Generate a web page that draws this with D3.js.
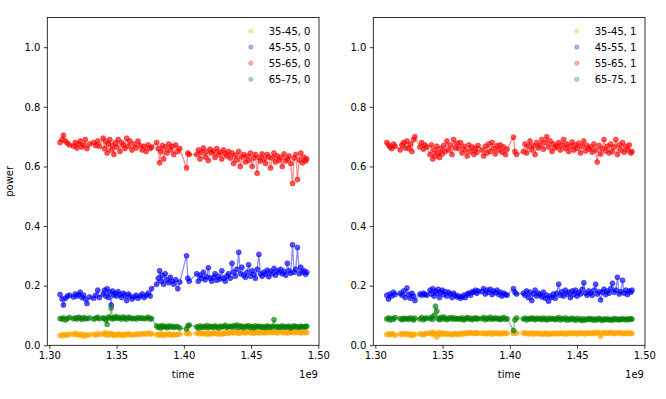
<!doctype html>
<html>
<head>
<meta charset="UTF-8">
<title>power vs time</title>
<script src="https://d3js.org/d3.v7.min.js"></script>
<style>
  body { margin: 0; background: #fff; }
  text { font-family: "DejaVu Sans", sans-serif; fill: #000; }
</style>
</head>
<body>
<svg id="chart" width="666" height="399"></svg>
<script>
// time in units of 1e9 s (axis shows offset "1e9")
var timesL = [
  1.3080,1.3095,1.3105,1.3120,1.3135,1.3150,1.3180,1.3192,1.3205,1.3218,
  1.3230,1.3242,1.3255,1.3268,1.3280,1.3300,1.3330,1.3345,1.3360,1.3372,
  1.3400,1.3410,1.3420,1.3430,1.3440,1.3450,1.3460,1.3470,1.3480,1.3490,
  1.3500,1.3512,1.3525,1.3538,1.3550,1.3562,1.3575,1.3588,1.3600,1.3615,
  1.3630,1.3645,1.3660,1.3675,1.3690,1.3705,1.3720,1.3735,1.3750,1.3760,
  1.3798,1.3810,1.3820,1.3830,1.3840,1.3850,1.3862,1.3875,1.3888,1.3900,
  1.3912,1.3925,1.3940,1.3955,1.3970,
  1.4020,1.4030,1.4040,
  1.4096,1.4108,1.4120,1.4132,1.4145,1.4158,1.4170,1.4182,1.4195,1.4208,
  1.4220,1.4232,1.4245,1.4258,1.4270,1.4282,1.4295,1.4308,1.4320,1.4332,
  1.4345,1.4358,1.4370,1.4382,1.4395,1.4408,1.4420,1.4432,1.4445,1.4458,
  1.4470,1.4482,1.4495,1.4508,1.4520,1.4532,1.4545,1.4558,1.4570,1.4582,
  1.4595,1.4608,1.4620,1.4632,1.4645,1.4658,1.4670,1.4682,1.4695,1.4708,
  1.4720,1.4732,1.4745,1.4758,1.4770,1.4782,1.4795,1.4808,1.4820,1.4832,
  1.4845,1.4858,1.4870,1.4882,1.4895,1.4905,1.4914
];

var orange0 = [
  .033,.035,.032,.036,.034,.038,.036,.040,.037,.034,
  .038,.035,.030,.036,.033,.035,.037,.034,.039,.036,
  .040,.036,.042,.034,.038,.035,.040,.037,.033,.036,
  .035,.038,.034,.036,.033,.037,.035,.039,.036,.034,
  .037,.035,.039,.036,.038,.040,.037,.041,.039,.038,
  .035,.037,.034,.038,.036,.033,.037,.035,.038,.036,
  .034,.037,.035,.036,.038,
  .040,.042,.038,
  .040,.043,.038,.041,.039,.042,.037,.040,.038,.041,
  .039,.042,.040,.037,.041,.038,.040,.043,.039,.041,
  .042,.044,.041,.046,.043,.040,.045,.042,.044,.041,
  .043,.046,.042,.044,.040,.045,.043,.041,.044,.042,
  .044,.041,.046,.043,.045,.042,.047,.044,.041,.045,
  .043,.046,.042,.044,.041,.045,.043,.046,.042,.044,
  .043,.045,.041,.044,.042,.045,.043
];
var blue0 = [
  .170,.155,.135,.158,.165,.168,.162,.172,.165,.170,
  .178,.160,.168,.155,.140,.162,.158,.168,.185,.160,
  .172,.185,.165,.190,.160,.178,.135,.182,.168,.175,
  .165,.180,.170,.160,.175,.168,.150,.172,.165,.155,
  .162,.168,.158,.165,.172,.160,.168,.175,.165,.190,
  .205,.225,.250,.215,.235,.205,.240,.220,.210,.228,
  .215,.205,.220,.190,.212,
  .300,.225,.215,
  .240,.215,.235,.225,.245,.220,.230,.260,.225,.215,
  .228,.240,.218,.232,.222,.250,.225,.215,.232,.240,
  .225,.275,.245,.232,.255,.312,.240,.262,.235,.228,
  .245,.270,.232,.250,.238,.225,.255,.305,.240,.232,
  .245,.238,.252,.230,.248,.240,.258,.235,.250,.245,
  .255,.240,.248,.235,.275,.250,.242,.337,.245,.255,
  .328,.240,.262,.245,.250,.238,.245
];
var red0 = [
  .680,.690,.705,.685,.678,.672,.668,.680,.662,.675,
  .685,.665,.672,.690,.660,.675,.680,.670,.685,.668,
  .695,.660,.685,.645,.675,.690,.655,.670,.640,.680,
  .665,.690,.650,.680,.672,.660,.695,.668,.685,.655,
  .675,.662,.685,.670,.655,.668,.650,.672,.660,.665,
  .680,.660,.612,.650,.670,.625,.665,.645,.675,.655,
  .668,.640,.672,.650,.660,
  .595,.645,.640,
  .640,.655,.625,.648,.662,.632,.650,.620,.658,.645,
  .652,.630,.660,.640,.648,.625,.655,.642,.635,.650,
  .628,.645,.610,.638,.622,.650,.600,.632,.640,.615,
  .635,.620,.645,.600,.628,.640,.577,.630,.618,.642,
  .625,.610,.640,.632,.595,.628,.645,.615,.635,.620,
  .630,.600,.642,.618,.625,.635,.610,.543,.628,.640,
  .556,.622,.645,.612,.630,.618,.625
];
var green0 = [
  .090,.088,.092,.085,.090,.093,.089,.092,.088,.094,
  .091,.087,.093,.089,.090,.092,.088,.091,.094,.089,
  .092,.090,.085,.070,.095,.092,.125,.088,.094,.091,
  .096,.090,.093,.088,.095,.091,.087,.094,.092,.089,
  .091,.088,.093,.090,.092,.089,.091,.094,.088,.090,
  .065,.060,.064,.058,.066,.062,.063,.059,.065,.061,
  .064,.060,.063,.062,.058,
  .055,.065,.068,
  .062,.058,.065,.060,.063,.061,.066,.059,.064,.062,
  .060,.065,.062,.058,.064,.061,.063,.067,.060,.062,
  .064,.061,.066,.062,.068,.060,.065,.063,.059,.064,
  .062,.066,.060,.063,.058,.065,.061,.064,.062,.060,
  .063,.059,.065,.062,.060,.064,.086,.061,.063,.060,
  .062,.065,.060,.063,.061,.064,.058,.062,.065,.061,
  .063,.060,.064,.061,.063,.062,.064
];

var timesR = [
  1.3085,1.3098,1.3110,1.3122,1.3135,1.3147,1.3185,1.3198,1.3210,1.3222,
  1.3235,1.3248,1.3260,1.3272,1.3285,1.3294,1.3332,1.3345,1.3358,1.3370,
  1.3382,1.3407,1.3417,1.3427,1.3437,1.3447,1.3457,1.3467,1.3477,1.3487,
  1.3497,1.3508,1.3520,1.3532,1.3545,1.3558,1.3570,1.3582,1.3595,1.3608,
  1.3620,1.3633,1.3645,1.3658,1.3670,1.3683,1.3695,1.3708,1.3720,1.3733,
  1.3745,1.3755,1.3764,
  1.3792,1.3805,1.3818,1.3830,1.3842,1.3855,1.3868,1.3880,1.3892,1.3905,
  1.3918,1.3930,1.3942,1.3955,1.3968,1.3980,
  1.4027,1.4038,1.4050,
  1.4101,1.4113,1.4125,1.4138,1.4150,1.4163,1.4175,1.4188,1.4200,1.4213,
  1.4225,1.4238,1.4250,1.4263,1.4275,1.4288,1.4300,1.4313,1.4325,1.4338,
  1.4350,1.4363,1.4375,1.4388,1.4400,1.4413,1.4425,1.4438,1.4450,1.4463,
  1.4475,1.4488,1.4500,1.4513,1.4525,1.4538,1.4550,1.4563,1.4575,1.4588,
  1.4600,1.4613,1.4625,1.4638,1.4650,1.4663,1.4675,1.4688,1.4700,1.4713,
  1.4725,1.4738,1.4750,1.4763,1.4775,1.4788,1.4800,1.4813,1.4825,1.4838,
  1.4850,1.4863,1.4875,1.4888,1.4900,1.4908
];

var orange1 = [
  .036,.038,.035,.039,.037,.034,.038,.036,.040,.037,
  .039,.035,.038,.033,.037,.036,.039,.037,.035,.038,
  .040,.042,.038,.044,.036,.041,.028,.039,.043,.037,
  .041,.038,.040,.036,.039,.037,.035,.038,.040,.036,
  .038,.040,.037,.041,.039,.042,.040,.043,.041,.039,
  .042,.040,.041,
  .040,.042,.038,.041,.039,.043,.037,.040,.042,.039,
  .041,.038,.040,.042,.039,.041,
  .040,.043,.041,
  .042,.039,.041,.038,.040,.042,.037,.040,.039,.041,
  .038,.040,.037,.041,.039,.036,.040,.038,.041,.039,
  .040,.038,.042,.039,.041,.037,.040,.042,.039,.041,
  .039,.042,.038,.040,.043,.039,.041,.038,.042,.040,
  .041,.039,.043,.040,.044,.042,.030,.041,.043,.040,
  .042,.040,.044,.041,.039,.042,.040,.043,.041,.039,
  .041,.039,.042,.040,.041,.039
];
var blue1 = [
  .168,.155,.172,.165,.178,.170,.175,.168,.182,.160,
  .192,.170,.158,.175,.165,.150,.172,.168,.175,.170,
  .168,.185,.172,.190,.165,.182,.175,.188,.160,.178,
  .185,.170,.180,.165,.178,.172,.160,.175,.168,.162,
  .165,.158,.162,.168,.160,.172,.175,.168,.180,.178,
  .185,.175,.182,
  .180,.190,.172,.185,.178,.188,.170,.182,.176,.185,
  .170,.178,.165,.175,.170,.168,
  .190,.178,.172,
  .175,.168,.182,.160,.178,.150,.172,.185,.165,.175,
  .170,.162,.178,.158,.168,.148,.165,.160,.172,.158,
  .175,.205,.168,.180,.165,.185,.172,.178,.160,.182,
  .170,.185,.165,.178,.172,.188,.210,.175,.168,.182,
  .175,.168,.185,.205,.172,.180,.152,.178,.188,.170,
  .182,.175,.190,.208,.178,.185,.228,.172,.180,.218,
  .175,.185,.170,.182,.178,.185
];
var red1 = [
  .680,.672,.665,.660,.675,.668,.655,.672,.680,.662,
  .685,.660,.675,.650,.690,.700,.665,.680,.658,.672,
  .665,.640,.672,.625,.655,.635,.668,.645,.630,.660,
  .642,.670,.650,.685,.655,.672,.640,.690,.662,.678,
  .660,.680,.645,.668,.655,.635,.672,.650,.665,.640,
  .660,.648,.670,
  .655,.635,.668,.645,.675,.650,.680,.660,.642,.670,
  .655,.672,.648,.665,.640,.658,
  .698,.650,.640,
  .650,.675,.645,.668,.685,.655,.670,.640,.680,.662,
  .672,.690,.658,.680,.700,.665,.685,.650,.675,.662,
  .668,.680,.655,.672,.690,.660,.675,.650,.668,.682,
  .655,.672,.660,.678,.645,.668,.685,.652,.670,.658,
  .665,.648,.675,.655,.615,.670,.642,.660,.690,.652,
  .668,.645,.675,.650,.665,.690,.640,.672,.655,.680,
  .648,.668,.655,.672,.645,.650
];
var green1 = [
  .088,.092,.085,.090,.087,.093,.089,.086,.091,.088,
  .090,.087,.092,.089,.085,.091,.088,.093,.086,.090,
  .092,.089,.094,.087,.100,.131,.115,.090,.086,.093,
  .088,.095,.090,.086,.092,.089,.093,.087,.091,.088,
  .090,.087,.092,.085,.089,.093,.088,.091,.086,.090,
  .092,.088,.090,
  .089,.093,.086,.091,.088,.094,.087,.090,.092,.088,
  .091,.086,.090,.093,.087,.089,
  .050,.085,.092,
  .088,.091,.085,.090,.087,.092,.089,.086,.091,.088,
  .090,.086,.092,.088,.085,.091,.087,.090,.089,.086,
  .089,.093,.085,.090,.087,.092,.084,.089,.086,.091,
  .087,.084,.090,.086,.088,.083,.089,.085,.087,.090,
  .086,.089,.084,.088,.085,.090,.087,.083,.088,.086,
  .089,.085,.087,.084,.090,.086,.088,.085,.087,.089,
  .086,.088,.085,.089,.087,.088
];

var ageGroups = ["35-45", "45-55", "55-65", "65-75"];
var colors = ["orange", "blue", "red", "green"];
var xTicks = [1.30, 1.35, 1.40, 1.45, 1.50];
var yTicks = [0.0, 0.2, 0.4, 0.6, 0.8, 1.0];

var panels = [
  { left: 47.3, times: timesL, series: [orange0, blue0, red0, green0], flag: "0" },
  { left: 373.3, times: timesR, series: [orange1, blue1, red1, green1], flag: "1" }
];

var svg = d3.select("#chart");
var plotTop = 17.4, plotBottom = 345.3, pw = 271.7;

var y = d3.scaleLinear().domain([0, 1.1]).range([plotBottom, plotTop]);

panels.forEach(function (p, pi) {
  var x = d3.scaleLinear().domain([1.2985, 1.5005]).range([p.left, p.left + pw]);
  var g = svg.append("g");

  // data: lines then markers, series in legend order
  p.series.forEach(function (vals, si) {
    var n = Math.min(p.times.length, vals.length);
    var pts = [];
    for (var i = 0; i < n; i++) pts.push([p.times[i], vals[i]]);
    var sg = g.append("g");
    sg.append("path")
      .attr("d", d3.line().x(function (d) { return x(d[0]); }).y(function (d) { return y(d[1]); })(pts))
      .attr("fill", "none")
      .attr("stroke", colors[si])
      .attr("stroke-opacity", 0.45)
      .attr("stroke-width", 1.3);
    sg.selectAll("circle").data(pts).enter().append("circle")
      .attr("cx", function (d) { return x(d[0]); })
      .attr("cy", function (d) { return y(d[1]); })
      .attr("r", 2.5)
      .attr("fill", colors[si])
      .attr("fill-opacity", 0.65)
      .attr("stroke", colors[si])
      .attr("stroke-opacity", 0.5)
      .attr("stroke-width", 1);
  });

  // axes
  var xAxis = d3.axisBottom(x).tickValues(xTicks).tickFormat(d3.format(".2f"))
    .tickSize(3.5).tickPadding(3.5).tickSizeOuter(0);
  var gx = svg.append("g").attr("transform", "translate(0," + plotBottom + ")").call(xAxis);
  var yAxis = d3.axisLeft(y).tickValues(yTicks).tickFormat(d3.format(".1f"))
    .tickSize(3.5).tickPadding(3.5).tickSizeOuter(0);
  var gy = svg.append("g").attr("transform", "translate(" + p.left + ",0)").call(yAxis);
  [gx, gy].forEach(function (a) {
    a.select(".domain").remove();
    a.selectAll("line").attr("stroke", "#000").attr("stroke-width", 0.8);
    a.selectAll("text").style("font-family", "DejaVu Sans").style("font-size", "10px").attr("fill", "#000");
  });

  svg.append("rect")
    .attr("x", p.left).attr("y", plotTop).attr("width", pw).attr("height", plotBottom - plotTop)
    .attr("fill", "none").attr("stroke", "#000").attr("stroke-width", 0.8);

  svg.append("text").attr("x", p.left + pw / 2).attr("y", 378)
    .attr("text-anchor", "middle").style("font-size", "10px").text("time");
  svg.append("text").attr("x", p.left + pw - 1).attr("y", 378)
    .attr("text-anchor", "end").style("font-size", "10px").text("1e9");

  if (pi === 0) {
    svg.append("text").attr("transform", "translate(13," + ((plotTop + plotBottom) / 2) + ") rotate(-90)")
      .attr("text-anchor", "middle").style("font-size", "10px").text("power");
  }

  // legend
  var lg = svg.append("g");
  ageGroups.forEach(function (a, i) {
    var ly = 31 + i * 16.1;
    lg.append("circle").attr("cx", p.left + 203.5).attr("cy", ly).attr("r", 2.1)
      .attr("fill", colors[i]).attr("fill-opacity", 0.3)
      .attr("stroke", colors[i]).attr("stroke-opacity", 0.3).attr("stroke-width", 1);
    lg.append("text").attr("x", p.left + 221.4).attr("y", ly + 3.6)
      .style("font-size", "10px").attr("fill", "#222").text(a + ", " + p.flag);
  });
});
</script>
</body>
</html>
